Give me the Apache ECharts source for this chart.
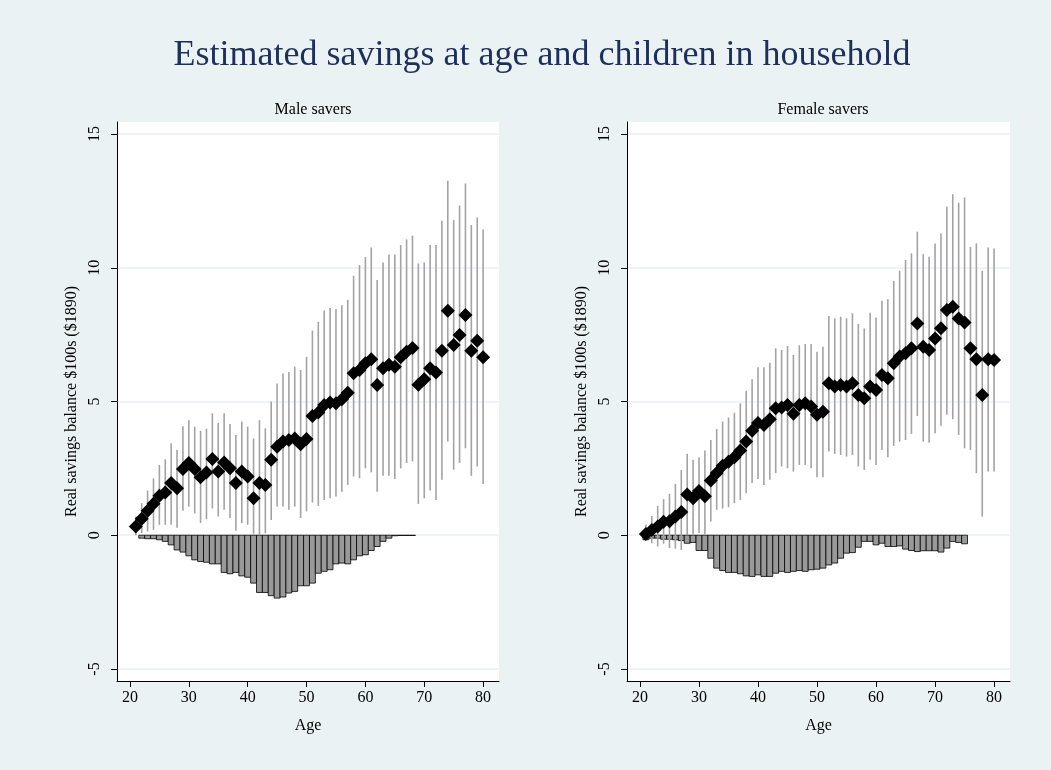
<!DOCTYPE html>
<html>
<head>
<meta charset="utf-8">
<title>Estimated savings at age and children in household</title>
<script src="https://cdn.jsdelivr.net/npm/echarts@6/dist/echarts.min.js"></script>
<style>
  html, body { margin: 0; padding: 0; background: #eaf2f3; }
  #chart { width: 1051px; height: 770px; }
</style>
</head>
<body>
<div id="chart"></div>
<script>
// Age of the saver (x categories shared by both panels)
const ages = [21, 22, 23, 24, 25, 26, 27, 28, 29, 30,
              31, 32, 33, 34, 35, 36, 37, 38, 39, 40,
              41, 42, 43, 44, 45, 46, 47, 48, 49, 50,
              51, 52, 53, 54, 55, 56, 57, 58, 59, 60,
              61, 62, 63, 64, 65, 66, 67, 68, 69, 70,
              71, 72, 73, 74, 75, 76, 77, 78, 79, 80];

// Male savers: point estimate, confidence band, children-in-household effect
const maleEst = [0.33, 0.62, 0.92, 1.18, 1.48, 1.60, 1.95, 1.76, 2.48, 2.70,
                 2.48, 2.17, 2.35, 2.85, 2.38, 2.72, 2.50, 1.95, 2.38, 2.20,
                 1.38, 1.95, 1.88, 2.82, 3.31, 3.50, 3.56, 3.62, 3.40, 3.60,
                 4.46, 4.59, 4.87, 4.96, 4.93, 5.08, 5.33, 6.06, 6.18, 6.43,
                 6.58, 5.62, 6.24, 6.37, 6.30, 6.65, 6.86, 7.00, 5.63, 5.83,
                 6.24, 6.08, 6.90, 8.39, 7.11, 7.49, 8.23, 6.90, 7.27, 6.65];
const maleLow = [0.00, 0.08, 0.14, 0.20, 0.39, 0.39, 0.39, 0.28, 0.92, 1.07,
                 0.82, 0.46, 0.60, 1.00, 0.70, 0.95, 0.64, 0.17, 0.45, 0.39,
                 0.05, 0.00, 0.08, 0.57, 1.07, 1.07, 0.95, 1.07, 0.64, 0.89,
                 1.22, 1.10, 1.32, 1.38, 1.45, 1.63, 1.88, 2.20, 2.13, 2.50,
                 2.35, 1.63, 2.22, 2.22, 2.10, 2.50, 2.70, 2.76, 1.17, 1.38,
                 1.67, 1.32, 2.07, 3.50, 2.45, 2.70, 3.25, 2.22, 2.57, 1.92];
const maleHigh = [0.70, 1.20, 1.67, 2.13, 2.63, 2.84, 3.44, 3.20, 4.07, 4.30,
                  4.06, 3.90, 3.98, 4.56, 4.20, 4.56, 4.16, 3.75, 4.25, 4.06,
                  3.62, 4.30, 4.00, 5.00, 5.67, 6.05, 6.10, 6.30, 6.18, 6.67,
                  7.65, 7.98, 8.40, 8.50, 8.46, 8.60, 8.80, 9.70, 10.10, 10.40,
                  10.76, 9.54, 10.20, 10.50, 10.50, 10.85, 11.06, 11.20, 10.16, 10.20,
                  10.85, 10.85, 11.76, 13.25, 11.78, 12.33, 13.15, 11.60, 11.88, 11.43];
const maleKids = [null, -0.11, -0.13, -0.13, -0.17, -0.23, -0.36, -0.55, -0.63, -0.77,
                  -0.92, -0.98, -1.01, -1.07, -1.07, -1.39, -1.44, -1.39, -1.52, -1.57,
                  -1.79, -2.14, -2.14, -2.26, -2.35, -2.31, -2.16, -2.10, -1.89, -1.89,
                  -1.79, -1.42, -1.35, -1.29, -1.07, -1.04, -1.07, -0.92, -0.77, -0.73,
                  -0.57, -0.42, -0.23, -0.11, -0.02, -0.01, -0.01, -0.01, null, null,
                  null, null, null, null, null, null, null, null, null, null];

// Female savers: point estimate, confidence band, children-in-household effect
const femaleEst = [0.05, 0.20, 0.33, 0.50, 0.52, 0.70, 0.87, 1.52, 1.38, 1.65,
                   1.46, 2.05, 2.33, 2.60, 2.75, 2.92, 3.17, 3.50, 3.91, 4.20,
                   4.12, 4.34, 4.75, 4.78, 4.87, 4.54, 4.87, 4.93, 4.81, 4.50,
                   4.62, 5.68, 5.56, 5.62, 5.56, 5.68, 5.24, 5.12, 5.56, 5.43,
                   5.99, 5.87, 6.43, 6.68, 6.80, 6.99, 7.92, 7.05, 6.93, 7.36,
                   7.74, 8.42, 8.54, 8.10, 7.95, 6.99, 6.58, 5.24, 6.58, 6.55];
const femaleLow = [-0.15, -0.30, -0.42, -0.32, -0.48, -0.50, -0.55, 0.00, 0.05, 0.08,
                   0.05, 0.51, 0.95, 1.00, 1.05, 1.20, 1.32, 1.57, 1.95, 2.10,
                   1.88, 2.07, 2.32, 2.57, 2.50, 2.38, 2.63, 2.63, 2.50, 2.17,
                   2.17, 3.13, 3.04, 3.00, 2.94, 3.00, 2.57, 2.44, 2.82, 2.63,
                   3.19, 2.92, 3.34, 3.50, 3.56, 3.79, 4.46, 3.50, 3.46, 3.81,
                   4.09, 4.50, 4.34, 3.75, 3.25, 3.19, 2.32, 0.70, 2.38, 2.38];
const femaleHigh = [0.40, 0.72, 1.10, 1.35, 1.55, 1.92, 2.44, 3.05, 2.82, 2.92,
                    3.17, 3.56, 3.97, 4.25, 4.40, 4.58, 4.93, 5.40, 5.83, 6.28,
                    6.28, 6.45, 6.99, 6.93, 7.08, 6.74, 7.10, 7.15, 7.15, 6.86,
                    7.05, 8.20, 8.11, 8.17, 8.11, 8.30, 7.90, 7.73, 8.32, 8.14,
                    8.77, 8.82, 9.51, 9.89, 10.29, 10.54, 11.35, 10.51, 10.41, 10.91,
                    11.28, 12.28, 12.75, 12.43, 12.63, 10.78, 10.91, 9.89, 10.76, 10.72];
const femaleKids = [-0.17, -0.11, -0.11, -0.15, -0.15, -0.17, -0.20, -0.30, -0.27, -0.57,
                    -0.57, -0.86, -1.23, -1.32, -1.39, -1.39, -1.44, -1.52, -1.54, -1.48,
                    -1.54, -1.54, -1.42, -1.35, -1.39, -1.35, -1.32, -1.35, -1.29, -1.27,
                    -1.23, -1.11, -1.04, -0.86, -0.67, -0.65, -0.45, -0.23, -0.23, -0.36,
                    -0.30, -0.42, -0.42, -0.40, -0.52, -0.57, -0.61, -0.58, -0.58, -0.58,
                    -0.63, -0.48, -0.23, -0.27, -0.32, null, null, null, null, null];

// Tick labels
const xTicks = [20, 30, 40, 50, 60, 70, 80];
const yTicks = [-5, 0, 5, 10, 15];

const titleText = 'Estimated savings at age and children in household';
const panelTitles = ['Male savers', 'Female savers'];
const xName = 'Age';
const yName = 'Real savings balance $100s ($1890)';

const SERIF = '"Liberation Serif", "DejaVu Serif", serif';
const NAVY = '#1f2f5c';
const GRID_BG = '#eaf2f3';

const panels = [
  { est: maleEst, low: maleLow, high: maleHigh, kids: maleKids },
  { est: femaleEst, low: femaleLow, high: femaleHigh, kids: femaleKids }
];

const grids = [
  { left: 117, top: 122, width: 382, height: 559 },
  { left: 627, top: 122, width: 383, height: 559 }
];

// Vertical spike from the lower to the upper bound at one age
function spikeItem(params, api) {
  const p1 = api.coord([api.value(0), api.value(1)]);
  const p2 = api.coord([api.value(0), api.value(2)]);
  return {
    type: 'line',
    shape: { x1: p1[0], y1: p1[1], x2: p2[0], y2: p2[1] },
    style: { stroke: '#a3a3a3', lineWidth: 1.6 }
  };
}

// One-year-wide bar hanging from zero
function barItem(params, api) {
  const age = api.value(0);
  const v = api.value(1);
  const a = api.coord([age - 0.5, 0]);
  const b = api.coord([age + 0.5, v]);
  return {
    type: 'rect',
    shape: {
      x: a[0], y: Math.min(a[1], b[1]),
      width: b[0] - a[0], height: Math.abs(b[1] - a[1])
    },
    style: { fill: '#999999', stroke: '#000000', lineWidth: 0.8 }
  };
}

const xAxes = [], yAxes = [], series = [];
panels.forEach((p, i) => {
  xAxes.push({
    type: 'value', gridIndex: i, min: 17.8, max: 82.7,
    axisLine: { show: true, onZero: false, lineStyle: { color: '#000', width: 1 } },
    axisTick: { show: true, customValues: xTicks, length: 6, lineStyle: { color: '#000', width: 1 } },
    axisLabel: { customValues: xTicks, color: '#000', fontFamily: SERIF, fontSize: 16, margin: 9 },
    splitLine: { show: false },
    name: xName, nameLocation: 'middle', nameGap: 37,
    nameTextStyle: { color: '#000', fontFamily: SERIF, fontSize: 16 }
  });
  yAxes.push({
    type: 'value', gridIndex: i, min: -5.45, max: 15.45,
    axisLine: { show: true, onZero: false, lineStyle: { color: '#000', width: 1 } },
    axisTick: { show: true, customValues: yTicks, length: 6, lineStyle: { color: '#000', width: 1 } },
    axisLabel: { customValues: yTicks, rotate: 90, color: '#000', fontFamily: SERIF, fontSize: 16, margin: 14 },
    splitLine: { show: true, lineStyle: { color: GRID_BG, width: 1.5 } },
    name: yName, nameLocation: 'middle', nameGap: 37,
    nameTextStyle: { color: '#000', fontFamily: SERIF, fontSize: 16 }
  });

  const barData = [], spikeData = [], pointData = [];
  ages.forEach((age, k) => {
    if (p.kids[k] !== null) barData.push([age, p.kids[k]]);
    spikeData.push([age, p.low[k], p.high[k]]);
    pointData.push([age, p.est[k]]);
  });

  series.push({
    type: 'custom', xAxisIndex: i, yAxisIndex: i,
    renderItem: barItem, data: barData,
    encode: { x: 0, y: 1 }, z: 2, silent: true
  });
  series.push({
    type: 'custom', xAxisIndex: i, yAxisIndex: i,
    renderItem: spikeItem, data: spikeData,
    encode: { x: 0, y: [1, 2] }, z: 3, silent: true
  });
  series.push({
    type: 'scatter', xAxisIndex: i, yAxisIndex: i,
    data: pointData, symbol: 'diamond', symbolSize: 14,
    itemStyle: { color: '#000', opacity: 1 }, z: 4, silent: true
  });
});

const chart = echarts.init(document.getElementById('chart'), null, { renderer: 'canvas' });
chart.setOption({
  backgroundColor: GRID_BG,
  animation: false,
  title: [
    { text: titleText, left: 537, top: 33, textAlign: 'center',
      textStyle: { color: NAVY, fontFamily: SERIF, fontSize: 36, fontWeight: 'normal' } },
    { text: panelTitles[0], left: 308, top: 97, textAlign: 'center',
      textStyle: { color: '#000', fontFamily: SERIF, fontSize: 16, fontWeight: 'normal' } },
    { text: panelTitles[1], left: 818, top: 97, textAlign: 'center',
      textStyle: { color: '#000', fontFamily: SERIF, fontSize: 16, fontWeight: 'normal' } }
  ],
  grid: grids.map(g => Object.assign({ show: true, backgroundColor: '#ffffff', borderWidth: 0 }, g)),
  xAxis: xAxes,
  yAxis: yAxes,
  series: series
});
</script>
</body>
</html>
